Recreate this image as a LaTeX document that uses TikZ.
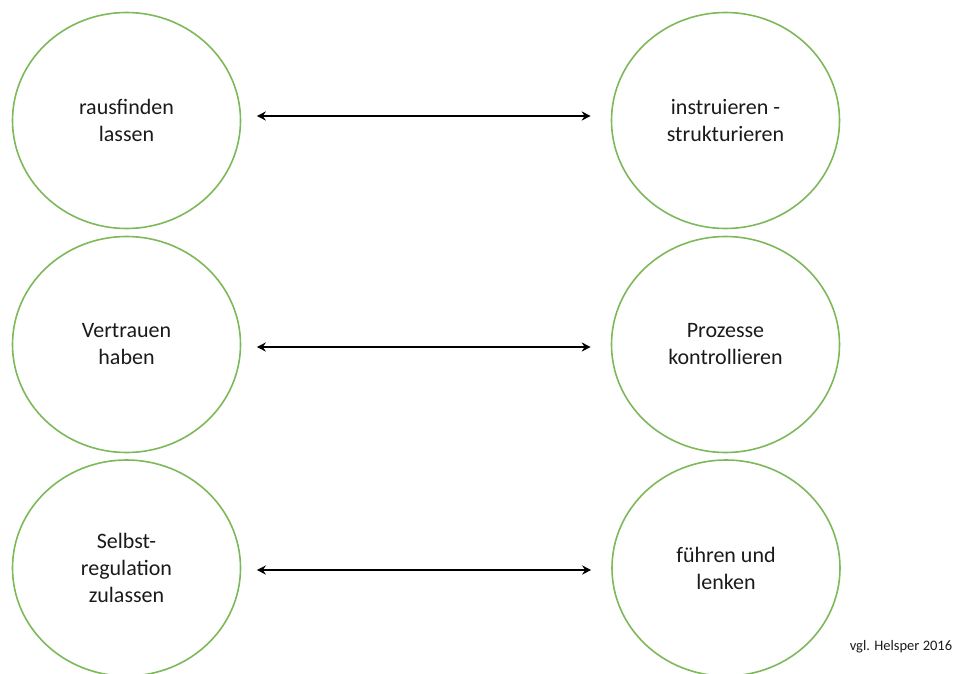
\documentclass[tikz,border=0pt]{standalone}
\usepackage{fontspec}
\setmainfont{Carlito}
\usetikzlibrary{arrows.meta,shapes.geometric}
\definecolor{ringgreen}{HTML}{7DB85A}
\definecolor{txt}{HTML}{1A1A1A}
\tikzset{
  ring/.style={ellipse, draw=ringgreen, line width=1.6pt, minimum width=228pt, minimum height=216pt, inner sep=0pt, align=center, text=txt, font=\fontsize{22}{27}\selectfont},
  arr/.style={{Stealth[length=9pt,width=9pt]}-{Stealth[length=9pt,width=9pt]}, line width=2.6pt, black},
  note/.style={font=\fontsize{14.5}{17}\selectfont, text=txt, inner sep=0pt}
}
\begin{document}
\begin{tikzpicture}[x=1pt,y=-1pt]
\useasboundingbox (0,0) rectangle (955,674);
\node[ring] (L1) at (126.5,120.5) {rausfinden\\lassen};
\node[ring] (L2) at (126.5,344.5) {Vertrauen\\haben};
\node[ring] (L3) at (126.5,568) {Selbst-\\regulation\\zulassen};
\node[ring] (R1) at (725.5,120.5) {instruieren -\\strukturieren};
\node[ring] (R2) at (725.5,344.5) {Prozesse\\kontrollieren};
\node[ring] (R3) at (726,568) {führen und\\lenken};
\draw[arr] ([xshift=15.5pt,yshift=4.5pt]L1.east) -- ([xshift=-20pt,yshift=4.5pt]R1.west);
\draw[arr] ([xshift=15.5pt,yshift=-2.5pt]L2.east) -- ([xshift=-20pt,yshift=-2.5pt]R2.west);
\draw[arr] ([xshift=15.5pt,yshift=-2pt]L3.east) -- ([xshift=-20pt,yshift=-2pt]R3.west);
\node[note] (src) at (901,647) {vgl. Helsper 2016};
\end{tikzpicture}
\end{document}
